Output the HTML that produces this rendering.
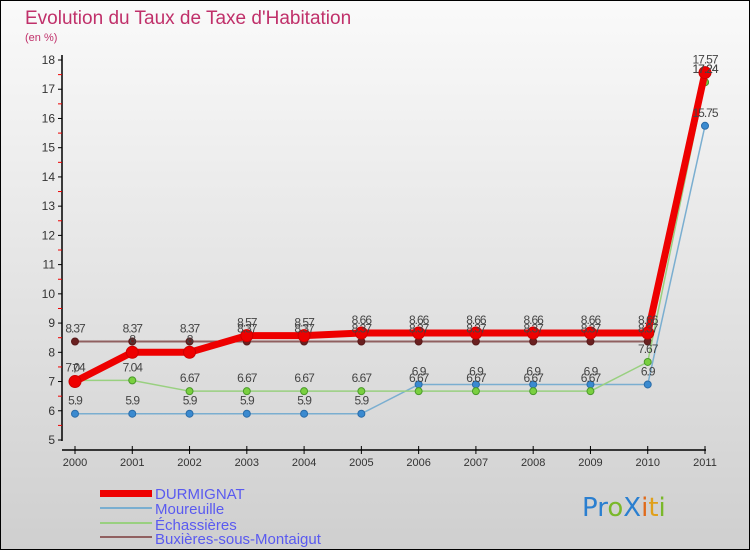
<!DOCTYPE html>
<html><head><meta charset="utf-8"><style>
body{margin:0;width:750px;height:550px;overflow:hidden;font-family:"Liberation Sans",sans-serif}
</style></head><body>
<svg width="750" height="550" viewBox="0 0 750 550" xmlns="http://www.w3.org/2000/svg">
<defs><linearGradient id="bg" x1="0" y1="0" x2="0" y2="1"><stop offset="0" stop-color="#fafafa"/><stop offset="1" stop-color="#cfcfcf"/></linearGradient></defs>
<rect x="0.5" y="0.5" width="749" height="549" fill="url(#bg)" stroke="#000"/>
<text x="25" y="24" font-size="19" fill="#c0306a">Evolution du Taux de Taxe d'Habitation</text>
<text x="25" y="41" font-size="11" fill="#c0306a">(en %)</text>
<g id="axes"></g><g id="series"></g><g id="labels"></g>
<g font-size="15" fill="#5a5af0">
<rect x="100" y="490" width="52" height="7" fill="#e00"/>
<text x="155" y="499">DURMIGNAT</text>
<line x1="100" y1="508" x2="152" y2="508" stroke="#7aaed0" stroke-width="2"/>
<text x="155" y="514">Moureuille</text>
<line x1="100" y1="523" x2="152" y2="523" stroke="#99d080" stroke-width="2"/>
<text x="155" y="530">Échassières</text>
<line x1="100" y1="537" x2="152" y2="537" stroke="#906060" stroke-width="2"/>
<text x="155" y="544">Buxières-sous-Montaigut</text>
</g>
<g font-size="26" font-family="'DejaVu Sans',sans-serif">
<text x="582" y="516"><tspan fill="#2a7fd0">Pr</tspan><tspan fill="#7ab82a">o</tspan><tspan fill="#2a7fd0">X</tspan><tspan fill="#e06a1a">i</tspan><tspan fill="#e0a01a">t</tspan><tspan fill="#7ab82a">i</tspan></text>
</g>
</svg>
<script>
const years=[2000,2001,2002,2003,2004,2005,2006,2007,2008,2009,2010,2011];
const durmignat=[7,8,8,8.57,8.57,8.66,8.66,8.66,8.66,8.66,8.66,17.57];
const moureuille=[5.9,5.9,5.9,5.9,5.9,5.9,6.9,6.9,6.9,6.9,6.9,15.75];
const echassieres=[7.04,7.04,6.67,6.67,6.67,6.67,6.67,6.67,6.67,6.67,7.67,17.24];
const buxieres=[8.37,8.37,8.37,8.37,8.37,8.37,8.37,8.37,8.37,8.37,8.37,17.24];
const yTicks=[5,6,7,8,9,10,11,12,13,14,15,16,17,18];
const NS="http://www.w3.org/2000/svg";
const xS=i=>75+i*(630/11);
const yS=v=>440-(v-5)*(380/13);
function mk(t,a,p){const e=document.createElementNS(NS,t);for(const k in a)e.setAttribute(k,a[k]);p.appendChild(e);return e;}
const ax=document.getElementById('axes');
const yl=mk('line',{x1:62,y1:55,x2:62,y2:441,stroke:'#000','stroke-width':1.5},ax);


const xl=mk('line',{x1:62,y1:450,x2:706,y2:450,stroke:'#000','stroke-width':1.5},ax);


yTicks.forEach(v=>{const y=yS(v);
mk('line',{x1:58,y1:y,x2:62,y2:y,stroke:'#000'},ax);
if(v<18)mk('line',{x1:58,y1:y-14.6,x2:62,y2:y-14.6,stroke:'#e00'},ax);
const t=mk('text',{x:55,y:y+4,'text-anchor':'end','font-size':12,fill:'#333'},ax);t.textContent=v;

});
years.forEach((yr,i)=>{const x=xS(i);
mk('line',{x1:x,y1:446,x2:x,y2:454,stroke:'#000'},ax);
const t=mk('text',{x:x,y:466,'text-anchor':'middle','font-size':11,fill:'#333'},ax);t.textContent=yr;

});
const sg=document.getElementById('series'),lg=document.getElementById('labels');
function series(name,data,line,w,dot,r,fillDot){
const g=mk('g',{},sg);


mk('polyline',{points:data.map((v,i)=>xS(i)+','+yS(v)).join(' '),fill:'none',stroke:line,'stroke-width':w,'stroke-linejoin':'round'},g);
data.forEach((v,i)=>{const c=mk('circle',{cx:xS(i),cy:yS(v),r:r,fill:fillDot,stroke:dot,'stroke-width':1},g);


const t=mk('text',{x:xS(i),y:yS(v)-9,'text-anchor':'middle','font-size':12,fill:'#444','letter-spacing':'-1'},lg);t.textContent=String(v);

});}
series('buxieres',buxieres,'#906060',2,'#5a1a1a',3.5,'#6a2020');
series('moureuille',moureuille,'#7aaed0',1.5,'#2a6ca8',3.5,'#3a8ad0');
series('echassieres',echassieres,'#99d080',1.5,'#4a9a2a',3.5,'#7ad040');
series('durmignat',durmignat,'#e00',7,'#c00',6,'#e00');
</script>
</body></html>
